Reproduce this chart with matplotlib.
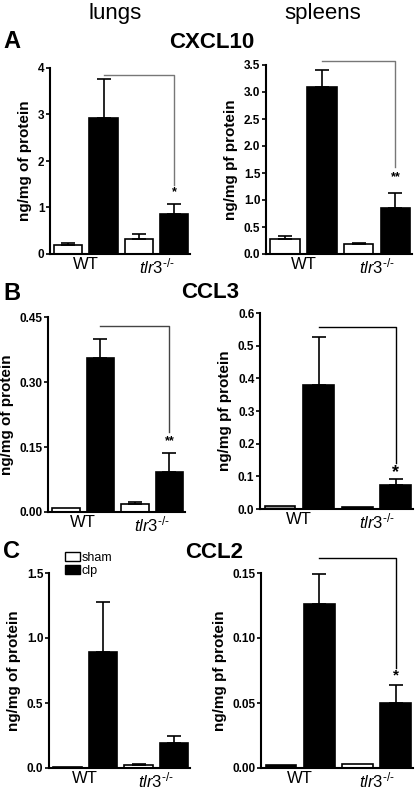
import matplotlib
matplotlib.use("Agg")
import matplotlib.pyplot as plt
from matplotlib.patches import Patch

plt.rcParams['font.family'] = ['Liberation Sans', 'DejaVu Sans']
plt.rcParams['mathtext.fontset'] = 'custom'
plt.rcParams['mathtext.rm'] = 'Liberation Sans'
plt.rcParams['mathtext.it'] = 'Liberation Sans:italic'

W, H = 416, 791
groups = ['WT', 'tlr3']
conditions = ['sham', 'clp']

# values order: sham WT, clp WT, sham tlr3, clp tlr3
cxcl10_lung = [0.20, 2.92, 0.33, 0.85]
cxcl10_lung_err = [0.03, 0.85, 0.09, 0.22]
cxcl10_spleen = [0.28, 3.10, 0.18, 0.86]
cxcl10_spleen_err = [0.05, 0.30, 0.02, 0.27]
ccl3_lung = [0.010, 0.355, 0.018, 0.092]
ccl3_lung_err = [0.0, 0.045, 0.004, 0.045]
ccl3_spleen = [0.010, 0.380, 0.005, 0.072]
ccl3_spleen_err = [0.0, 0.147, 0.0, 0.020]
ccl2_lung = [0.005, 0.89, 0.025, 0.19]
ccl2_lung_err = [0.0, 0.39, 0.003, 0.06]
ccl2_spleen = [0.002, 0.126, 0.003, 0.050]
ccl2_spleen_err = [0.0, 0.023, 0.0, 0.014]

fig = plt.figure(figsize=(W / 100, H / 100), dpi=100)

def add_ax(l, r, t, b):
    return fig.add_axes([l / W, 1 - b / H, (r - l) / W, (b - t) / H])

def panel(box, vals, errs, ylim, ticks, ticklabels, ylabel, sham_colors,
          bracket=None, star=None, bcolor='black'):
    ax = add_ax(*box)
    xs = [0, 1, 2, 3]
    colors = [sham_colors[0], 'black', sham_colors[1], 'black']
    ax.bar(xs, vals, width=0.8, color=colors, edgecolor='black', linewidth=1.2, zorder=2)
    for x, v, e in zip(xs, vals, errs):
        if e > 0:
            ax.errorbar([x], [v], yerr=[[0], [e]], fmt='none', ecolor='black',
                        elinewidth=1.2, capsize=5, capthick=1.2, zorder=3)
    ax.set_xlim(-0.52, 3.45)
    ax.set_ylim(*ylim)
    ax.set_yticks(ticks)
    ax.set_yticklabels(ticklabels, fontweight='bold', fontsize=8.5)
    ax.set_xticks([0.5, 2.5])
    ax.set_xticklabels(['WT', r'$tlr3^{\text{-/-}}$'], fontsize=12)
    ax.tick_params(axis='x', length=0, pad=2)
    ax.tick_params(axis='y', length=3, width=1.2, pad=1)
    for s in ['top', 'right']:
        ax.spines[s].set_visible(False)
    for s in ['left', 'bottom']:
        ax.spines[s].set_linewidth(1.5)
    ax.set_ylabel(ylabel, fontweight='bold', fontsize=11, labelpad=4)
    if bracket is not None:
        x0, x1, ytop, ybot = bracket
        ax.plot([x0, x1, x1], [ytop, ytop, ybot], color=bcolor, lw=1.0,
                clip_on=False, zorder=4)
    if star is not None:
        sx, sy, stext, sfs = star
        ax.text(sx, sy, stext, ha='center', va='center', fontsize=sfs, fontweight='bold')
    return ax

# Panel A
panel((50, 190, 68, 254), cxcl10_lung, cxcl10_lung_err, (0, 4), [0, 1, 2, 3, 4],
      ['0', '1', '2', '3', '4'], 'ng/mg of protein', ['white', 'white'],
      bracket=(1, 3, 3.85, 1.48), star=(3, 1.33, '*', 9), bcolor='#777777')
panel((266, 412, 65, 254), cxcl10_spleen, cxcl10_spleen_err, (0, 3.5),
      [0, 0.5, 1, 1.5, 2, 2.5, 3, 3.5],
      ['0.0', '0.5', '1.0', '1.5', '2.0', '2.5', '3.0', '3.5'], 'ng/mg pf protein',
      ['white', 'white'], bracket=(1, 3, 3.58, 1.61), star=(3, 1.42, '**', 9),
      bcolor='#777777')

# Panel B
panel((48, 185, 317, 512), ccl3_lung, ccl3_lung_err, (0, 0.45), [0, 0.15, 0.30, 0.45],
      ['0.00', '0.15', '0.30', '0.45'], 'ng/mg of protein', ['white', 'white'],
      bracket=(1, 3, 0.43, 0.185), star=(3, 0.163, '**', 9), bcolor='#444444')
panel((260, 413, 313, 509), ccl3_spleen, ccl3_spleen_err, (0, 0.6),
      [0, 0.1, 0.2, 0.3, 0.4, 0.5, 0.6],
      ['0.0', '0.1', '0.2', '0.3', '0.4', '0.5', '0.6'], 'ng/mg pf protein',
      ['#999999', 'black'], bracket=(1, 3, 0.557, 0.14), star=(3, 0.112, '*', 13))

# Panel C
axc = panel((49, 190, 573, 768), ccl2_lung, ccl2_lung_err, (0, 1.5), [0, 0.5, 1.0, 1.5],
            ['0.0', '0.5', '1.0', '1.5'], 'ng/mg of protein', ['white', 'white'])
panel((261, 413, 573, 768), ccl2_spleen, ccl2_spleen_err, (0, 0.15),
      [0, 0.05, 0.10, 0.15], ['0.00', '0.05', '0.10', '0.15'], 'ng/mg pf protein',
      ['black', 'white'], bracket=(1, 3, 0.1615, 0.077), star=(3, 0.071, '*', 11))

handles = [Patch(facecolor='white', edgecolor='black', linewidth=1.0),
           Patch(facecolor='black', edgecolor='black', linewidth=1.0)]
fig.legend(handles, conditions, loc='upper left',
           bbox_to_anchor=(56 / W, 1 - 543 / H), frameon=False, fontsize=9,
           handlelength=1.2, handleheight=0.8, handletextpad=0.15,
           labelspacing=0.05, borderpad=0.2)

# Texts
fig.text(115 / W, 1 - 14 / H, 'lungs', ha='center', va='center', fontsize=16)
fig.text(323 / W, 1 - 14 / H, 'spleens', ha='center', va='center', fontsize=16)
for letter, y in [('A', 42), ('B', 293), ('C', 552)]:
    fig.text(3 / W, 1 - y / H, letter, ha='left', va='center', fontsize=17,
             fontweight='bold')
for title, x, y in [('CXCL10', 212, 43), ('CCL3', 210, 293), ('CCL2', 214, 552)]:
    fig.text(x / W, 1 - y / H, title, ha='center', va='center', fontsize=16,
             fontweight='bold')

fig.savefig('out.png', dpi=100)
